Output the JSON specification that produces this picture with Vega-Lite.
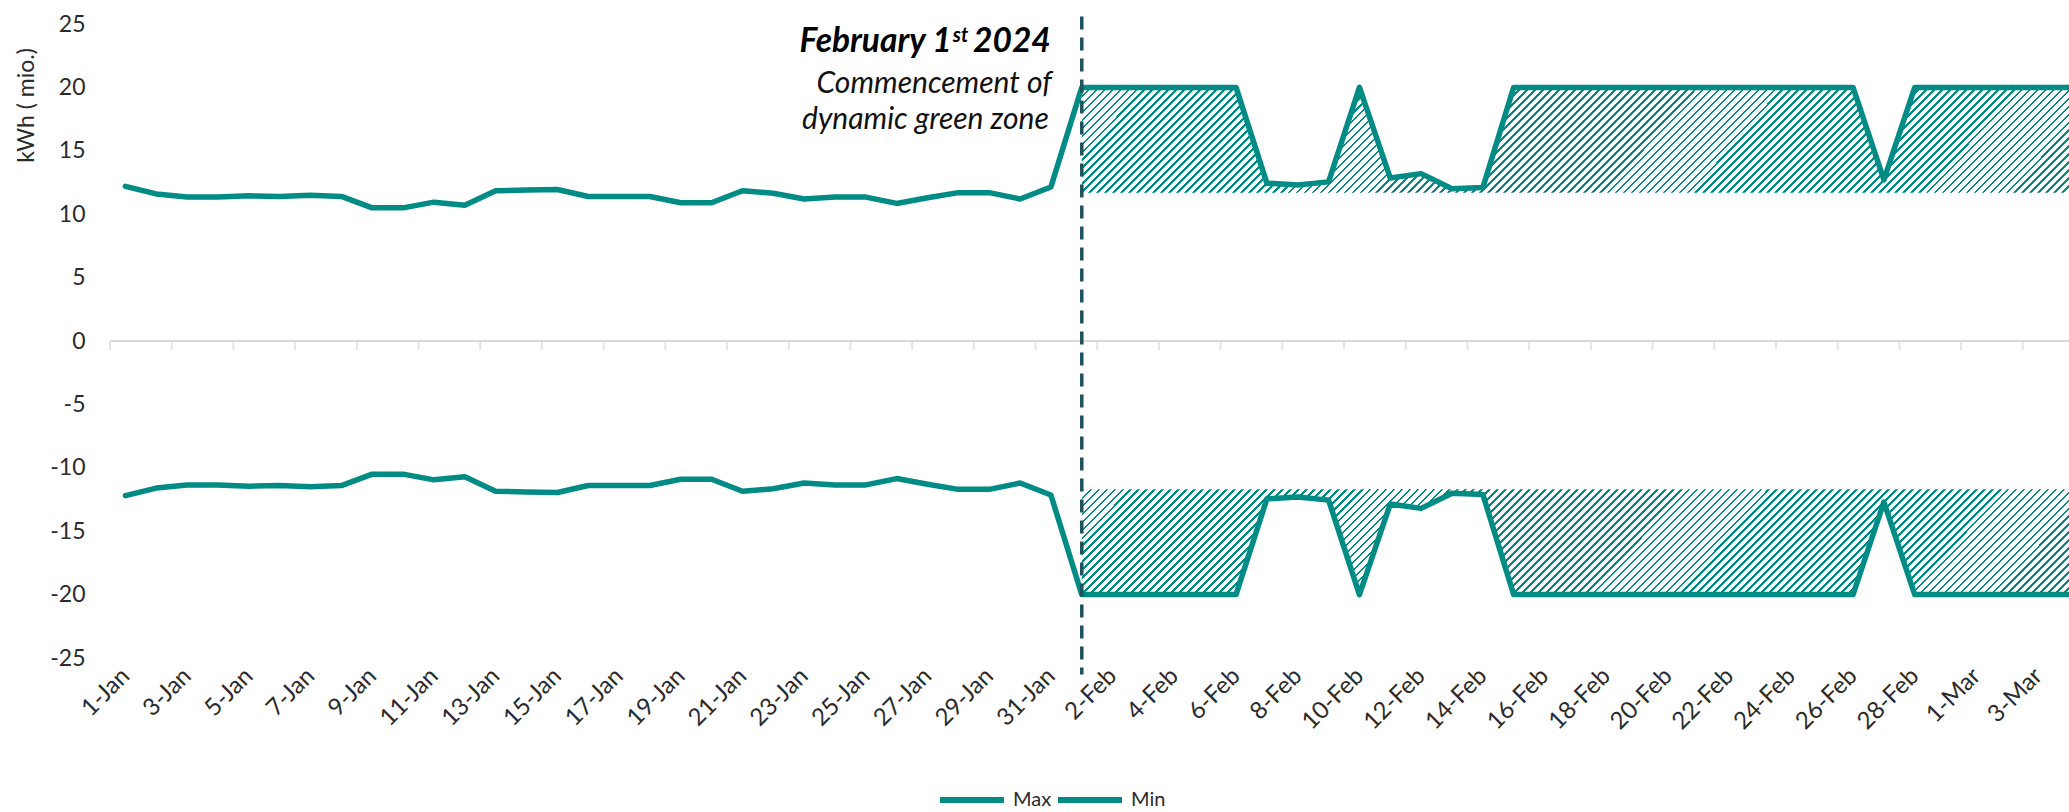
{
  "$schema": "https://vega.github.io/schema/vega-lite/v6.json",
  "width": 1959,
  "height": 634,
  "autosize": {"type": "none"},
  "padding": {"left": 110, "top": 24, "right": 0, "bottom": 154},
  "background": "white",
  "config": {
    "view": {"stroke": null},
    "font": "Lato",
    "axis": {"labelFont": "Lato", "labelColor": "#2b2b2b", "labelFontSize": 23, "titleFont": "Lato", "titleColor": "#2b2b2b", "titleFontWeight": "normal", "grid": false},
    "legend": {"labelFont": "Lato", "labelColor": "#2b2b2b"},
    "area": {
      "opacity": 1,
      "fill": {"gradient": "linear", "x1": 0, "y1": 0, "x2": 1.0942, "y2": 0.1166, "stops": [
{"offset":0,"color":"#008C85"},{"offset":0.0025,"color":"#008C85"},{"offset":0.0025,"color":"#fff"},{"offset":0.0073,"color":"#fff"},
{"offset":0.0073,"color":"#008C85"},{"offset":0.0098,"color":"#008C85"},{"offset":0.0098,"color":"#fff"},{"offset":0.0146,"color":"#fff"},
{"offset":0.0146,"color":"#008C85"},{"offset":0.0171,"color":"#008C85"},{"offset":0.0171,"color":"#fff"},{"offset":0.0219,"color":"#fff"},
{"offset":0.0219,"color":"#008C85"},{"offset":0.0244,"color":"#008C85"},{"offset":0.0244,"color":"#fff"},{"offset":0.0292,"color":"#fff"},
{"offset":0.0292,"color":"#008C85"},{"offset":0.0317,"color":"#008C85"},{"offset":0.0317,"color":"#fff"},{"offset":0.0365,"color":"#fff"},
{"offset":0.0365,"color":"#008C85"},{"offset":0.039,"color":"#008C85"},{"offset":0.039,"color":"#fff"},{"offset":0.0438,"color":"#fff"},
{"offset":0.0438,"color":"#008C85"},{"offset":0.0463,"color":"#008C85"},{"offset":0.0463,"color":"#fff"},{"offset":0.0511,"color":"#fff"},
{"offset":0.0511,"color":"#008C85"},{"offset":0.0536,"color":"#008C85"},{"offset":0.0536,"color":"#fff"},{"offset":0.0584,"color":"#fff"},
{"offset":0.0584,"color":"#008C85"},{"offset":0.0609,"color":"#008C85"},{"offset":0.0609,"color":"#fff"},{"offset":0.0657,"color":"#fff"},
{"offset":0.0657,"color":"#008C85"},{"offset":0.0682,"color":"#008C85"},{"offset":0.0682,"color":"#fff"},{"offset":0.073,"color":"#fff"},
{"offset":0.073,"color":"#008C85"},{"offset":0.0755,"color":"#008C85"},{"offset":0.0755,"color":"#fff"},{"offset":0.0803,"color":"#fff"},
{"offset":0.0803,"color":"#008C85"},{"offset":0.0828,"color":"#008C85"},{"offset":0.0828,"color":"#fff"},{"offset":0.0876,"color":"#fff"},
{"offset":0.0876,"color":"#008C85"},{"offset":0.0901,"color":"#008C85"},{"offset":0.0901,"color":"#fff"},{"offset":0.0949,"color":"#fff"},
{"offset":0.0949,"color":"#008C85"},{"offset":0.0974,"color":"#008C85"},{"offset":0.0974,"color":"#fff"},{"offset":0.1022,"color":"#fff"},
{"offset":0.1022,"color":"#008C85"},{"offset":0.1047,"color":"#008C85"},{"offset":0.1047,"color":"#fff"},{"offset":0.1095,"color":"#fff"},
{"offset":0.1095,"color":"#008C85"},{"offset":0.112,"color":"#008C85"},{"offset":0.112,"color":"#fff"},{"offset":0.1168,"color":"#fff"},
{"offset":0.1168,"color":"#008C85"},{"offset":0.1193,"color":"#008C85"},{"offset":0.1193,"color":"#fff"},{"offset":0.1241,"color":"#fff"},
{"offset":0.1241,"color":"#008C85"},{"offset":0.1266,"color":"#008C85"},{"offset":0.1266,"color":"#fff"},{"offset":0.1314,"color":"#fff"},
{"offset":0.1314,"color":"#008C85"},{"offset":0.1339,"color":"#008C85"},{"offset":0.1339,"color":"#fff"},{"offset":0.1387,"color":"#fff"},
{"offset":0.1387,"color":"#008C85"},{"offset":0.1412,"color":"#008C85"},{"offset":0.1412,"color":"#fff"},{"offset":0.146,"color":"#fff"},
{"offset":0.146,"color":"#008C85"},{"offset":0.1485,"color":"#008C85"},{"offset":0.1485,"color":"#fff"},{"offset":0.1533,"color":"#fff"},
{"offset":0.1533,"color":"#008C85"},{"offset":0.1558,"color":"#008C85"},{"offset":0.1558,"color":"#fff"},{"offset":0.1606,"color":"#fff"},
{"offset":0.1606,"color":"#008C85"},{"offset":0.1631,"color":"#008C85"},{"offset":0.1631,"color":"#fff"},{"offset":0.1679,"color":"#fff"},
{"offset":0.1679,"color":"#008C85"},{"offset":0.1704,"color":"#008C85"},{"offset":0.1704,"color":"#fff"},{"offset":0.1752,"color":"#fff"},
{"offset":0.1752,"color":"#008C85"},{"offset":0.1777,"color":"#008C85"},{"offset":0.1777,"color":"#fff"},{"offset":0.1825,"color":"#fff"},
{"offset":0.1825,"color":"#008C85"},{"offset":0.185,"color":"#008C85"},{"offset":0.185,"color":"#fff"},{"offset":0.1898,"color":"#fff"},
{"offset":0.1898,"color":"#008C85"},{"offset":0.1923,"color":"#008C85"},{"offset":0.1923,"color":"#fff"},{"offset":0.1971,"color":"#fff"},
{"offset":0.1971,"color":"#008C85"},{"offset":0.1996,"color":"#008C85"},{"offset":0.1996,"color":"#fff"},{"offset":0.2044,"color":"#fff"},
{"offset":0.2044,"color":"#008C85"},{"offset":0.2069,"color":"#008C85"},{"offset":0.2069,"color":"#fff"},{"offset":0.2117,"color":"#fff"},
{"offset":0.2117,"color":"#008C85"},{"offset":0.2142,"color":"#008C85"},{"offset":0.2142,"color":"#fff"},{"offset":0.219,"color":"#fff"},
{"offset":0.219,"color":"#008C85"},{"offset":0.2215,"color":"#008C85"},{"offset":0.2215,"color":"#fff"},{"offset":0.2263,"color":"#fff"},
{"offset":0.2263,"color":"#008C85"},{"offset":0.2288,"color":"#008C85"},{"offset":0.2288,"color":"#fff"},{"offset":0.2336,"color":"#fff"},
{"offset":0.2336,"color":"#008C85"},{"offset":0.2361,"color":"#008C85"},{"offset":0.2361,"color":"#fff"},{"offset":0.2409,"color":"#fff"},
{"offset":0.2409,"color":"#008C85"},{"offset":0.2434,"color":"#008C85"},{"offset":0.2434,"color":"#fff"},{"offset":0.2482,"color":"#fff"},
{"offset":0.2482,"color":"#008C85"},{"offset":0.2507,"color":"#008C85"},{"offset":0.2507,"color":"#fff"},{"offset":0.2555,"color":"#fff"},
{"offset":0.2555,"color":"#008C85"},{"offset":0.258,"color":"#008C85"},{"offset":0.258,"color":"#fff"},{"offset":0.2628,"color":"#fff"},
{"offset":0.2628,"color":"#008C85"},{"offset":0.2653,"color":"#008C85"},{"offset":0.2653,"color":"#fff"},{"offset":0.2701,"color":"#fff"},
{"offset":0.2701,"color":"#008C85"},{"offset":0.2726,"color":"#008C85"},{"offset":0.2726,"color":"#fff"},{"offset":0.2774,"color":"#fff"},
{"offset":0.2774,"color":"#008C85"},{"offset":0.2799,"color":"#008C85"},{"offset":0.2799,"color":"#fff"},{"offset":0.2847,"color":"#fff"},
{"offset":0.2847,"color":"#008C85"},{"offset":0.2872,"color":"#008C85"},{"offset":0.2872,"color":"#fff"},{"offset":0.292,"color":"#fff"},
{"offset":0.292,"color":"#008C85"},{"offset":0.2945,"color":"#008C85"},{"offset":0.2945,"color":"#fff"},{"offset":0.2993,"color":"#fff"},
{"offset":0.2993,"color":"#008C85"},{"offset":0.3018,"color":"#008C85"},{"offset":0.3018,"color":"#fff"},{"offset":0.3066,"color":"#fff"},
{"offset":0.3066,"color":"#008C85"},{"offset":0.3091,"color":"#008C85"},{"offset":0.3091,"color":"#fff"},{"offset":0.3139,"color":"#fff"},
{"offset":0.3139,"color":"#008C85"},{"offset":0.3164,"color":"#008C85"},{"offset":0.3164,"color":"#fff"},{"offset":0.3212,"color":"#fff"},
{"offset":0.3212,"color":"#008C85"},{"offset":0.3237,"color":"#008C85"},{"offset":0.3237,"color":"#fff"},{"offset":0.3285,"color":"#fff"},
{"offset":0.3285,"color":"#008C85"},{"offset":0.331,"color":"#008C85"},{"offset":0.331,"color":"#fff"},{"offset":0.3358,"color":"#fff"},
{"offset":0.3358,"color":"#008C85"},{"offset":0.3383,"color":"#008C85"},{"offset":0.3383,"color":"#fff"},{"offset":0.3431,"color":"#fff"},
{"offset":0.3431,"color":"#008C85"},{"offset":0.3456,"color":"#008C85"},{"offset":0.3456,"color":"#fff"},{"offset":0.3504,"color":"#fff"},
{"offset":0.3504,"color":"#008C85"},{"offset":0.3529,"color":"#008C85"},{"offset":0.3529,"color":"#fff"},{"offset":0.3577,"color":"#fff"},
{"offset":0.3577,"color":"#008C85"},{"offset":0.3602,"color":"#008C85"},{"offset":0.3602,"color":"#fff"},{"offset":0.365,"color":"#fff"},
{"offset":0.365,"color":"#008C85"},{"offset":0.3675,"color":"#008C85"},{"offset":0.3675,"color":"#fff"},{"offset":0.3723,"color":"#fff"},
{"offset":0.3723,"color":"#008C85"},{"offset":0.3748,"color":"#008C85"},{"offset":0.3748,"color":"#fff"},{"offset":0.3796,"color":"#fff"},
{"offset":0.3796,"color":"#008C85"},{"offset":0.3821,"color":"#008C85"},{"offset":0.3821,"color":"#fff"},{"offset":0.3869,"color":"#fff"},
{"offset":0.3869,"color":"#008C85"},{"offset":0.3894,"color":"#008C85"},{"offset":0.3894,"color":"#fff"},{"offset":0.3942,"color":"#fff"},
{"offset":0.3942,"color":"#008C85"},{"offset":0.3967,"color":"#008C85"},{"offset":0.3967,"color":"#fff"},{"offset":0.4015,"color":"#fff"},
{"offset":0.4015,"color":"#008C85"},{"offset":0.404,"color":"#008C85"},{"offset":0.404,"color":"#fff"},{"offset":0.4088,"color":"#fff"},
{"offset":0.4088,"color":"#008C85"},{"offset":0.4113,"color":"#008C85"},{"offset":0.4113,"color":"#fff"},{"offset":0.4161,"color":"#fff"},
{"offset":0.4161,"color":"#008C85"},{"offset":0.4186,"color":"#008C85"},{"offset":0.4186,"color":"#fff"},{"offset":0.4234,"color":"#fff"},
{"offset":0.4234,"color":"#008C85"},{"offset":0.4259,"color":"#008C85"},{"offset":0.4259,"color":"#fff"},{"offset":0.4307,"color":"#fff"},
{"offset":0.4307,"color":"#008C85"},{"offset":0.4332,"color":"#008C85"},{"offset":0.4332,"color":"#fff"},{"offset":0.438,"color":"#fff"},
{"offset":0.438,"color":"#008C85"},{"offset":0.4405,"color":"#008C85"},{"offset":0.4405,"color":"#fff"},{"offset":0.4453,"color":"#fff"},
{"offset":0.4453,"color":"#008C85"},{"offset":0.4478,"color":"#008C85"},{"offset":0.4478,"color":"#fff"},{"offset":0.4526,"color":"#fff"},
{"offset":0.4526,"color":"#008C85"},{"offset":0.4551,"color":"#008C85"},{"offset":0.4551,"color":"#fff"},{"offset":0.4599,"color":"#fff"},
{"offset":0.4599,"color":"#008C85"},{"offset":0.4624,"color":"#008C85"},{"offset":0.4624,"color":"#fff"},{"offset":0.4672,"color":"#fff"},
{"offset":0.4672,"color":"#008C85"},{"offset":0.4697,"color":"#008C85"},{"offset":0.4697,"color":"#fff"},{"offset":0.4745,"color":"#fff"},
{"offset":0.4745,"color":"#008C85"},{"offset":0.477,"color":"#008C85"},{"offset":0.477,"color":"#fff"},{"offset":0.4818,"color":"#fff"},
{"offset":0.4818,"color":"#008C85"},{"offset":0.4843,"color":"#008C85"},{"offset":0.4843,"color":"#fff"},{"offset":0.4891,"color":"#fff"},
{"offset":0.4891,"color":"#008C85"},{"offset":0.4916,"color":"#008C85"},{"offset":0.4916,"color":"#fff"},{"offset":0.4964,"color":"#fff"},
{"offset":0.4964,"color":"#008C85"},{"offset":0.4989,"color":"#008C85"},{"offset":0.4989,"color":"#fff"},{"offset":0.5037,"color":"#fff"},
{"offset":0.5037,"color":"#008C85"},{"offset":0.5062,"color":"#008C85"},{"offset":0.5062,"color":"#fff"},{"offset":0.511,"color":"#fff"},
{"offset":0.511,"color":"#008C85"},{"offset":0.5135,"color":"#008C85"},{"offset":0.5135,"color":"#fff"},{"offset":0.5183,"color":"#fff"},
{"offset":0.5183,"color":"#008C85"},{"offset":0.5208,"color":"#008C85"},{"offset":0.5208,"color":"#fff"},{"offset":0.5256,"color":"#fff"},
{"offset":0.5256,"color":"#008C85"},{"offset":0.5281,"color":"#008C85"},{"offset":0.5281,"color":"#fff"},{"offset":0.5329,"color":"#fff"},
{"offset":0.5329,"color":"#008C85"},{"offset":0.5354,"color":"#008C85"},{"offset":0.5354,"color":"#fff"},{"offset":0.5402,"color":"#fff"},
{"offset":0.5402,"color":"#008C85"},{"offset":0.5427,"color":"#008C85"},{"offset":0.5427,"color":"#fff"},{"offset":0.5475,"color":"#fff"},
{"offset":0.5475,"color":"#008C85"},{"offset":0.55,"color":"#008C85"},{"offset":0.55,"color":"#fff"},{"offset":0.5548,"color":"#fff"},
{"offset":0.5548,"color":"#008C85"},{"offset":0.5573,"color":"#008C85"},{"offset":0.5573,"color":"#fff"},{"offset":0.5621,"color":"#fff"},
{"offset":0.5621,"color":"#008C85"},{"offset":0.5646,"color":"#008C85"},{"offset":0.5646,"color":"#fff"},{"offset":0.5694,"color":"#fff"},
{"offset":0.5694,"color":"#008C85"},{"offset":0.5719,"color":"#008C85"},{"offset":0.5719,"color":"#fff"},{"offset":0.5767,"color":"#fff"},
{"offset":0.5767,"color":"#008C85"},{"offset":0.5792,"color":"#008C85"},{"offset":0.5792,"color":"#fff"},{"offset":0.584,"color":"#fff"},
{"offset":0.584,"color":"#008C85"},{"offset":0.5865,"color":"#008C85"},{"offset":0.5865,"color":"#fff"},{"offset":0.5913,"color":"#fff"},
{"offset":0.5913,"color":"#008C85"},{"offset":0.5938,"color":"#008C85"},{"offset":0.5938,"color":"#fff"},{"offset":0.5986,"color":"#fff"},
{"offset":0.5986,"color":"#008C85"},{"offset":0.6011,"color":"#008C85"},{"offset":0.6011,"color":"#fff"},{"offset":0.6059,"color":"#fff"},
{"offset":0.6059,"color":"#008C85"},{"offset":0.6084,"color":"#008C85"},{"offset":0.6084,"color":"#fff"},{"offset":0.6132,"color":"#fff"},
{"offset":0.6132,"color":"#008C85"},{"offset":0.6157,"color":"#008C85"},{"offset":0.6157,"color":"#fff"},{"offset":0.6205,"color":"#fff"},
{"offset":0.6205,"color":"#008C85"},{"offset":0.623,"color":"#008C85"},{"offset":0.623,"color":"#fff"},{"offset":0.6278,"color":"#fff"},
{"offset":0.6278,"color":"#008C85"},{"offset":0.6303,"color":"#008C85"},{"offset":0.6303,"color":"#fff"},{"offset":0.6351,"color":"#fff"},
{"offset":0.6351,"color":"#008C85"},{"offset":0.6376,"color":"#008C85"},{"offset":0.6376,"color":"#fff"},{"offset":0.6424,"color":"#fff"},
{"offset":0.6424,"color":"#008C85"},{"offset":0.6449,"color":"#008C85"},{"offset":0.6449,"color":"#fff"},{"offset":0.6497,"color":"#fff"},
{"offset":0.6497,"color":"#008C85"},{"offset":0.6522,"color":"#008C85"},{"offset":0.6522,"color":"#fff"},{"offset":0.657,"color":"#fff"},
{"offset":0.657,"color":"#008C85"},{"offset":0.6595,"color":"#008C85"},{"offset":0.6595,"color":"#fff"},{"offset":0.6643,"color":"#fff"},
{"offset":0.6643,"color":"#008C85"},{"offset":0.6668,"color":"#008C85"},{"offset":0.6668,"color":"#fff"},{"offset":0.6716,"color":"#fff"},
{"offset":0.6716,"color":"#008C85"},{"offset":0.6741,"color":"#008C85"},{"offset":0.6741,"color":"#fff"},{"offset":0.6789,"color":"#fff"},
{"offset":0.6789,"color":"#008C85"},{"offset":0.6814,"color":"#008C85"},{"offset":0.6814,"color":"#fff"},{"offset":0.6862,"color":"#fff"},
{"offset":0.6862,"color":"#008C85"},{"offset":0.6887,"color":"#008C85"},{"offset":0.6887,"color":"#fff"},{"offset":0.6935,"color":"#fff"},
{"offset":0.6935,"color":"#008C85"},{"offset":0.696,"color":"#008C85"},{"offset":0.696,"color":"#fff"},{"offset":0.7008,"color":"#fff"},
{"offset":0.7008,"color":"#008C85"},{"offset":0.7033,"color":"#008C85"},{"offset":0.7033,"color":"#fff"},{"offset":0.7081,"color":"#fff"},
{"offset":0.7081,"color":"#008C85"},{"offset":0.7106,"color":"#008C85"},{"offset":0.7106,"color":"#fff"},{"offset":0.7154,"color":"#fff"},
{"offset":0.7154,"color":"#008C85"},{"offset":0.7179,"color":"#008C85"},{"offset":0.7179,"color":"#fff"},{"offset":0.7227,"color":"#fff"},
{"offset":0.7227,"color":"#008C85"},{"offset":0.7252,"color":"#008C85"},{"offset":0.7252,"color":"#fff"},{"offset":0.73,"color":"#fff"},
{"offset":0.73,"color":"#008C85"},{"offset":0.7325,"color":"#008C85"},{"offset":0.7325,"color":"#fff"},{"offset":0.7373,"color":"#fff"},
{"offset":0.7373,"color":"#008C85"},{"offset":0.7398,"color":"#008C85"},{"offset":0.7398,"color":"#fff"},{"offset":0.7446,"color":"#fff"},
{"offset":0.7446,"color":"#008C85"},{"offset":0.7471,"color":"#008C85"},{"offset":0.7471,"color":"#fff"},{"offset":0.7519,"color":"#fff"},
{"offset":0.7519,"color":"#008C85"},{"offset":0.7544,"color":"#008C85"},{"offset":0.7544,"color":"#fff"},{"offset":0.7592,"color":"#fff"},
{"offset":0.7592,"color":"#008C85"},{"offset":0.7617,"color":"#008C85"},{"offset":0.7617,"color":"#fff"},{"offset":0.7665,"color":"#fff"},
{"offset":0.7665,"color":"#008C85"},{"offset":0.769,"color":"#008C85"},{"offset":0.769,"color":"#fff"},{"offset":0.7738,"color":"#fff"},
{"offset":0.7738,"color":"#008C85"},{"offset":0.7763,"color":"#008C85"},{"offset":0.7763,"color":"#fff"},{"offset":0.7811,"color":"#fff"},
{"offset":0.7811,"color":"#008C85"},{"offset":0.7836,"color":"#008C85"},{"offset":0.7836,"color":"#fff"},{"offset":0.7884,"color":"#fff"},
{"offset":0.7884,"color":"#008C85"},{"offset":0.7909,"color":"#008C85"},{"offset":0.7909,"color":"#fff"},{"offset":0.7957,"color":"#fff"},
{"offset":0.7957,"color":"#008C85"},{"offset":0.7982,"color":"#008C85"},{"offset":0.7982,"color":"#fff"},{"offset":0.803,"color":"#fff"},
{"offset":0.803,"color":"#008C85"},{"offset":0.8055,"color":"#008C85"},{"offset":0.8055,"color":"#fff"},{"offset":0.8103,"color":"#fff"},
{"offset":0.8103,"color":"#008C85"},{"offset":0.8128,"color":"#008C85"},{"offset":0.8128,"color":"#fff"},{"offset":0.8176,"color":"#fff"},
{"offset":0.8176,"color":"#008C85"},{"offset":0.8201,"color":"#008C85"},{"offset":0.8201,"color":"#fff"},{"offset":0.8249,"color":"#fff"},
{"offset":0.8249,"color":"#008C85"},{"offset":0.8274,"color":"#008C85"},{"offset":0.8274,"color":"#fff"},{"offset":0.8322,"color":"#fff"},
{"offset":0.8322,"color":"#008C85"},{"offset":0.8347,"color":"#008C85"},{"offset":0.8347,"color":"#fff"},{"offset":0.8395,"color":"#fff"},
{"offset":0.8395,"color":"#008C85"},{"offset":0.842,"color":"#008C85"},{"offset":0.842,"color":"#fff"},{"offset":0.8468,"color":"#fff"},
{"offset":0.8468,"color":"#008C85"},{"offset":0.8493,"color":"#008C85"},{"offset":0.8493,"color":"#fff"},{"offset":0.8541,"color":"#fff"},
{"offset":0.8541,"color":"#008C85"},{"offset":0.8566,"color":"#008C85"},{"offset":0.8566,"color":"#fff"},{"offset":0.8614,"color":"#fff"},
{"offset":0.8614,"color":"#008C85"},{"offset":0.8639,"color":"#008C85"},{"offset":0.8639,"color":"#fff"},{"offset":0.8687,"color":"#fff"},
{"offset":0.8687,"color":"#008C85"},{"offset":0.8712,"color":"#008C85"},{"offset":0.8712,"color":"#fff"},{"offset":0.876,"color":"#fff"},
{"offset":0.876,"color":"#008C85"},{"offset":0.8785,"color":"#008C85"},{"offset":0.8785,"color":"#fff"},{"offset":0.8833,"color":"#fff"},
{"offset":0.8833,"color":"#008C85"},{"offset":0.8858,"color":"#008C85"},{"offset":0.8858,"color":"#fff"},{"offset":0.8906,"color":"#fff"},
{"offset":0.8906,"color":"#008C85"},{"offset":0.8931,"color":"#008C85"},{"offset":0.8931,"color":"#fff"},{"offset":0.8979,"color":"#fff"},
{"offset":0.8979,"color":"#008C85"},{"offset":0.9004,"color":"#008C85"},{"offset":0.9004,"color":"#fff"},{"offset":0.9052,"color":"#fff"},
{"offset":0.9052,"color":"#008C85"},{"offset":0.9077,"color":"#008C85"},{"offset":0.9077,"color":"#fff"},{"offset":0.9125,"color":"#fff"},
{"offset":0.9125,"color":"#008C85"},{"offset":0.915,"color":"#008C85"},{"offset":0.915,"color":"#fff"},{"offset":0.9198,"color":"#fff"},
{"offset":0.9198,"color":"#008C85"},{"offset":0.9223,"color":"#008C85"},{"offset":0.9223,"color":"#fff"},{"offset":0.9271,"color":"#fff"},
{"offset":0.9271,"color":"#008C85"},{"offset":0.9296,"color":"#008C85"},{"offset":0.9296,"color":"#fff"},{"offset":0.9344,"color":"#fff"},
{"offset":0.9344,"color":"#008C85"},{"offset":0.9369,"color":"#008C85"},{"offset":0.9369,"color":"#fff"},{"offset":0.9417,"color":"#fff"},
{"offset":0.9417,"color":"#008C85"},{"offset":0.9442,"color":"#008C85"},{"offset":0.9442,"color":"#fff"},{"offset":0.949,"color":"#fff"},
{"offset":0.949,"color":"#008C85"},{"offset":0.9515,"color":"#008C85"},{"offset":0.9515,"color":"#fff"},{"offset":0.9563,"color":"#fff"},
{"offset":0.9563,"color":"#008C85"},{"offset":0.9588,"color":"#008C85"},{"offset":0.9588,"color":"#fff"},{"offset":0.9636,"color":"#fff"},
{"offset":0.9636,"color":"#008C85"},{"offset":0.9661,"color":"#008C85"},{"offset":0.9661,"color":"#fff"},{"offset":0.9709,"color":"#fff"},
{"offset":0.9709,"color":"#008C85"},{"offset":0.9734,"color":"#008C85"},{"offset":0.9734,"color":"#fff"},{"offset":0.9782,"color":"#fff"},
{"offset":0.9782,"color":"#008C85"},{"offset":0.9807,"color":"#008C85"},{"offset":0.9807,"color":"#fff"},{"offset":0.9855,"color":"#fff"},
{"offset":0.9855,"color":"#008C85"},{"offset":0.988,"color":"#008C85"},{"offset":0.988,"color":"#fff"},{"offset":0.9928,"color":"#fff"},
{"offset":0.9928,"color":"#008C85"},{"offset":0.9953,"color":"#008C85"},{"offset":0.9953,"color":"#fff"},{"offset":1,"color":"#fff"}
      ]}
    }
  },
  "data": {"values": [
    {"day": "1-Jan", "date": "2024-01-01", "period": "before", "Max": 12.2, "Min": -12.2},
    {"day": "2-Jan", "date": "2024-01-02", "period": "before", "Max": 11.6, "Min": -11.6},
    {"day": "3-Jan", "date": "2024-01-03", "period": "before", "Max": 11.35, "Min": -11.35},
    {"day": "4-Jan", "date": "2024-01-04", "period": "before", "Max": 11.35, "Min": -11.35},
    {"day": "5-Jan", "date": "2024-01-05", "period": "before", "Max": 11.45, "Min": -11.45},
    {"day": "6-Jan", "date": "2024-01-06", "period": "before", "Max": 11.4, "Min": -11.4},
    {"day": "7-Jan", "date": "2024-01-07", "period": "before", "Max": 11.5, "Min": -11.5},
    {"day": "8-Jan", "date": "2024-01-08", "period": "before", "Max": 11.4, "Min": -11.4},
    {"day": "9-Jan", "date": "2024-01-09", "period": "before", "Max": 10.5, "Min": -10.5},
    {"day": "10-Jan", "date": "2024-01-10", "period": "before", "Max": 10.5, "Min": -10.5},
    {"day": "11-Jan", "date": "2024-01-11", "period": "before", "Max": 10.95, "Min": -10.95},
    {"day": "12-Jan", "date": "2024-01-12", "period": "before", "Max": 10.7, "Min": -10.7},
    {"day": "13-Jan", "date": "2024-01-13", "period": "before", "Max": 11.85, "Min": -11.85},
    {"day": "14-Jan", "date": "2024-01-14", "period": "before", "Max": 11.9, "Min": -11.9},
    {"day": "15-Jan", "date": "2024-01-15", "period": "before", "Max": 11.95, "Min": -11.95},
    {"day": "16-Jan", "date": "2024-01-16", "period": "before", "Max": 11.4, "Min": -11.4},
    {"day": "17-Jan", "date": "2024-01-17", "period": "before", "Max": 11.4, "Min": -11.4},
    {"day": "18-Jan", "date": "2024-01-18", "period": "before", "Max": 11.4, "Min": -11.4},
    {"day": "19-Jan", "date": "2024-01-19", "period": "before", "Max": 10.9, "Min": -10.9},
    {"day": "20-Jan", "date": "2024-01-20", "period": "before", "Max": 10.9, "Min": -10.9},
    {"day": "21-Jan", "date": "2024-01-21", "period": "before", "Max": 11.85, "Min": -11.85},
    {"day": "22-Jan", "date": "2024-01-22", "period": "before", "Max": 11.65, "Min": -11.65},
    {"day": "23-Jan", "date": "2024-01-23", "period": "before", "Max": 11.2, "Min": -11.2},
    {"day": "24-Jan", "date": "2024-01-24", "period": "before", "Max": 11.35, "Min": -11.35},
    {"day": "25-Jan", "date": "2024-01-25", "period": "before", "Max": 11.35, "Min": -11.35},
    {"day": "26-Jan", "date": "2024-01-26", "period": "before", "Max": 10.85, "Min": -10.85},
    {"day": "27-Jan", "date": "2024-01-27", "period": "before", "Max": 11.3, "Min": -11.3},
    {"day": "28-Jan", "date": "2024-01-28", "period": "before", "Max": 11.7, "Min": -11.7},
    {"day": "29-Jan", "date": "2024-01-29", "period": "before", "Max": 11.7, "Min": -11.7},
    {"day": "30-Jan", "date": "2024-01-30", "period": "before", "Max": 11.2, "Min": -11.2},
    {"day": "31-Jan", "date": "2024-01-31", "period": "before", "Max": 12.15, "Min": -12.15},
    {"day": "1-Feb", "date": "2024-02-01", "period": "after", "Max": 20, "Min": -20},
    {"day": "2-Feb", "date": "2024-02-02", "period": "after", "Max": 20, "Min": -20},
    {"day": "3-Feb", "date": "2024-02-03", "period": "after", "Max": 20, "Min": -20},
    {"day": "4-Feb", "date": "2024-02-04", "period": "after", "Max": 20, "Min": -20},
    {"day": "5-Feb", "date": "2024-02-05", "period": "after", "Max": 20, "Min": -20},
    {"day": "6-Feb", "date": "2024-02-06", "period": "after", "Max": 20, "Min": -20},
    {"day": "7-Feb", "date": "2024-02-07", "period": "after", "Max": 12.45, "Min": -12.45},
    {"day": "8-Feb", "date": "2024-02-08", "period": "after", "Max": 12.3, "Min": -12.3},
    {"day": "9-Feb", "date": "2024-02-09", "period": "after", "Max": 12.55, "Min": -12.55},
    {"day": "10-Feb", "date": "2024-02-10", "period": "after", "Max": 20, "Min": -20},
    {"day": "11-Feb", "date": "2024-02-11", "period": "after", "Max": 12.85, "Min": -12.85},
    {"day": "12-Feb", "date": "2024-02-12", "period": "after", "Max": 13.2, "Min": -13.2},
    {"day": "13-Feb", "date": "2024-02-13", "period": "after", "Max": 12.0, "Min": -12.0},
    {"day": "14-Feb", "date": "2024-02-14", "period": "after", "Max": 12.1, "Min": -12.1},
    {"day": "15-Feb", "date": "2024-02-15", "period": "after", "Max": 20, "Min": -20},
    {"day": "16-Feb", "date": "2024-02-16", "period": "after", "Max": 20, "Min": -20},
    {"day": "17-Feb", "date": "2024-02-17", "period": "after", "Max": 20, "Min": -20},
    {"day": "18-Feb", "date": "2024-02-18", "period": "after", "Max": 20, "Min": -20},
    {"day": "19-Feb", "date": "2024-02-19", "period": "after", "Max": 20, "Min": -20},
    {"day": "20-Feb", "date": "2024-02-20", "period": "after", "Max": 20, "Min": -20},
    {"day": "21-Feb", "date": "2024-02-21", "period": "after", "Max": 20, "Min": -20},
    {"day": "22-Feb", "date": "2024-02-22", "period": "after", "Max": 20, "Min": -20},
    {"day": "23-Feb", "date": "2024-02-23", "period": "after", "Max": 20, "Min": -20},
    {"day": "24-Feb", "date": "2024-02-24", "period": "after", "Max": 20, "Min": -20},
    {"day": "25-Feb", "date": "2024-02-25", "period": "after", "Max": 20, "Min": -20},
    {"day": "26-Feb", "date": "2024-02-26", "period": "after", "Max": 20, "Min": -20},
    {"day": "27-Feb", "date": "2024-02-27", "period": "after", "Max": 12.7, "Min": -12.7},
    {"day": "28-Feb", "date": "2024-02-28", "period": "after", "Max": 20, "Min": -20},
    {"day": "29-Feb", "date": "2024-02-29", "period": "after", "Max": 20, "Min": -20},
    {"day": "1-Mar", "date": "2024-03-01", "period": "after", "Max": 20, "Min": -20},
    {"day": "2-Mar", "date": "2024-03-02", "period": "after", "Max": 20, "Min": -20},
    {"day": "3-Mar", "date": "2024-03-03", "period": "after", "Max": 20, "Min": -20},
    {"day": "4-Mar", "date": "2024-03-04", "period": "after", "Max": 20, "Min": -20}
  ]},
  "layer": [
    {
      "transform": [{"filter": "datum.period == 'after'"}],
      "mark": {"type": "area"},
      "encoding": {
        "x": {
          "field": "date", "type": "temporal",
          "scale": {"type": "utc", "nice": false, "domain": [{"year": 2023, "month": 12, "date": 31, "hours": 12, "utc": true}, {"year": 2024, "month": 3, "date": 4, "utc": true}]},
          "axis": {
            "orient": "bottom", "title": null, "domain": false, "ticks": false, "grid": false,
            "labelExpr": "utcFormat(datum.value, '%-d-%b')", "labelOverlap": false,
            "labelAngle": -45, "labelAlign": "right", "labelBaseline": "middle", "labelPadding": 14, "labelFontSize": 24,
            "values": [1704067200000, 1704240000000, 1704412800000, 1704585600000, 1704758400000, 1704931200000, 1705104000000, 1705276800000, 1705449600000, 1705622400000, 1705795200000, 1705968000000, 1706140800000, 1706313600000, 1706486400000, 1706659200000, 1706832000000, 1707004800000, 1707177600000, 1707350400000, 1707523200000, 1707696000000, 1707868800000, 1708041600000, 1708214400000, 1708387200000, 1708560000000, 1708732800000, 1708905600000, 1709078400000, 1709251200000, 1709424000000]
          }
        },
        "y": {
          "field": "Max", "type": "quantitative",
          "scale": {"domain": [-25, 25], "nice": false, "zero": false},
          "axis": {
            "title": "kWh ( mio.)", "titleFontSize": 23, "titleAngle": -90, "titleX": -84, "titleY": 81,
            "titleAlign": "center", "titleBaseline": "middle",
            "values": [-25, -20, -15, -10, -5, 0, 5, 10, 15, 20, 25],
            "labelExpr": "toString(datum.value)",
            "domain": false, "ticks": false, "grid": false, "labelPadding": 25
          }
        },
        "y2": {"datum": 11.7}
      }
    },
    {
      "transform": [{"filter": "datum.period == 'after'"}],
      "mark": {"type": "area"},
      "encoding": {
        "x": {"field": "date", "type": "temporal"},
        "y": {"field": "Min", "type": "quantitative"},
        "y2": {"datum": -11.7}
      }
    },
    {
      "transform": [{"fold": ["Max", "Min"], "as": ["series", "value"]}],
      "mark": {"type": "line", "strokeWidth": 5.5, "strokeCap": "round", "strokeJoin": "round"},
      "encoding": {
        "x": {"field": "date", "type": "temporal"},
        "y": {"field": "value", "type": "quantitative"},
        "color": {
          "field": "series", "type": "nominal",
          "scale": {"domain": ["Max", "Min"], "range": ["#008C85", "#008C85"]},
          "legend": {
            "orient": "none", "legendX": 827, "legendY": 741, "direction": "horizontal", "title": null,
            "symbolType": "stroke", "symbolSize": 4096, "symbolStrokeWidth": 6,
            "labelFontSize": 20, "labelOffset": 6, "columnPadding": -6, "padding": 0
          }
        }
      }
    },
    {
      "data": {"values": [{}]},
      "mark": {"type": "rule", "color": "#D9D9D9", "strokeWidth": 2},
      "encoding": {
        "y": {"datum": 0, "type": "quantitative"}
      }
    },
    {
      "transform": [{"filter": {"field": "day", "oneOf": ["1-Jan","3-Jan","5-Jan","7-Jan","9-Jan","11-Jan","13-Jan","15-Jan","17-Jan","19-Jan","21-Jan","23-Jan","25-Jan","27-Jan","29-Jan","31-Jan","2-Feb","4-Feb","6-Feb","8-Feb","10-Feb","12-Feb","14-Feb","16-Feb","18-Feb","20-Feb","22-Feb","24-Feb","26-Feb","28-Feb","1-Mar","3-Mar"]}}],
      "mark": {"type": "tick", "orient": "vertical", "color": "#D9D9D9", "thickness": 2, "size": 9, "xOffset": -15.4, "yOffset": 4.5},
      "encoding": {
        "x": {"field": "date", "type": "temporal"},
        "y": {"datum": 0, "type": "quantitative"}
      }
    },
    {
      "data": {"values": [{}]},
      "mark": {"type": "rule", "color": "#1D525C", "strokeWidth": 3.5, "strokeDash": [13, 8]},
      "encoding": {
        "x": {"datum": {"year": 2024, "month": 2, "date": 1, "utc": true}, "type": "temporal"},
        "y": {"datum": 25.6, "type": "quantitative"},
        "y2": {"datum": -26.3}
      }
    },
    {
      "data": {"values": [{}]},
      "mark": {"type": "text", "text": "February 1", "font": "Lato", "fontSize": 33.5, "fontStyle": "italic", "fontWeight": "bold", "align": "right", "baseline": "alphabetic", "dx": -130, "color": "#000000"},
      "encoding": {
        "x": {"datum": {"year": 2024, "month": 2, "date": 1, "utc": true}, "type": "temporal"},
        "y": {"datum": 22.79, "type": "quantitative"}
      }
    },
    {
      "data": {"values": [{}]},
      "mark": {"type": "text", "text": "st", "font": "Lato", "fontSize": 20, "fontStyle": "italic", "fontWeight": "bold", "align": "left", "baseline": "alphabetic", "dx": -129, "color": "#000000"},
      "encoding": {
        "x": {"datum": {"year": 2024, "month": 2, "date": 1, "utc": true}, "type": "temporal"},
        "y": {"datum": 23.6, "type": "quantitative"}
      }
    },
    {
      "data": {"values": [{}]},
      "mark": {"type": "text", "text": "2024", "font": "Lato", "fontSize": 33.5, "fontStyle": "italic", "fontWeight": "bold", "align": "right", "baseline": "alphabetic", "dx": -31, "color": "#000000"},
      "encoding": {
        "x": {"datum": {"year": 2024, "month": 2, "date": 1, "utc": true}, "type": "temporal"},
        "y": {"datum": 22.79, "type": "quantitative"}
      }
    },
    {
      "data": {"values": [{}]},
      "mark": {"type": "text", "text": "Commencement of", "font": "Lato", "fontSize": 30, "fontStyle": "italic", "align": "right", "baseline": "alphabetic", "dx": -30, "color": "#111111"},
      "encoding": {
        "x": {"datum": {"year": 2024, "month": 2, "date": 1, "utc": true}, "type": "temporal"},
        "y": {"datum": 19.56, "type": "quantitative"}
      }
    },
    {
      "data": {"values": [{}]},
      "mark": {"type": "text", "text": "dynamic green zone", "font": "Lato", "fontSize": 30, "fontStyle": "italic", "align": "right", "baseline": "alphabetic", "dx": -33, "color": "#111111"},
      "encoding": {
        "x": {"datum": {"year": 2024, "month": 2, "date": 1, "utc": true}, "type": "temporal"},
        "y": {"datum": 16.7, "type": "quantitative"}
      }
    }
  ]
}
